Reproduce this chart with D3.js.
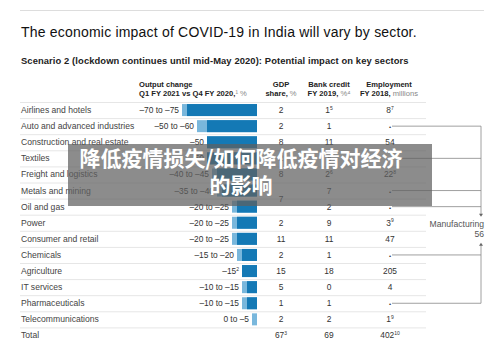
<!DOCTYPE html>
<html>
<head>
<meta charset="utf-8">
<script src="https://cdn.jsdelivr.net/npm/d3@7"></script>
<style>
  body { margin: 0; background: #fff; }
  svg { font-family: "Liberation Sans", Arial, sans-serif; }
</style>
</head>
<body>
<div id="container"></div>
<script>
/* DATA */
const sectors = ["Airlines and hotels", "Auto and advanced industries", "Construction and real estate",
  "Textiles", "Freight and logistics", "Metals and mining", "Oil and gas", "Power",
  "Consumer and retail", "Chemicals", "Agriculture", "IT services", "Pharmaceuticals",
  "Telecommunications", "Total"]
const outLow = [70, 50, 50, 50, 40, 35, 20, 20, 20, 15, 15, 10, 10, 0, null]
const outHigh = [75, 60, 50, 50, 45, 40, 25, 25, 25, 20, 15, 15, 15, 5, null]
const outLabels = ["–70 to –75", "–50 to –60", "–50", "–50", "–40 to –45", "–35 to –40", "–20 to –25",
  "–20 to –25", "–20 to –25", "–15 to –20", "–15|2", "–10 to –15", "–10 to –15", "0 to –5", ""]
// "|" marks a superscript note
const gdpShare = ["2", "2", "8", "2", "8", "", "", "2", "11", "2", "15", "5", "1", "2", "67|3"]
const bankCredit = ["1|5", "1", "11", "4", "2|6", "7", "2", "9", "11", "1", "18", "0", "1", "2", "69"]
const employment = ["8|7", "•", "54", "•", "22|8", "•", "•", "3|9", "47", "•", "205", "4", "•", "1|9", "402|10"]
const manufacturing = { label: "Manufacturing", value: "56" }
const mergedGdp = { rows: [5, 6], value: "7" }
const watermark = ["降低疫情损失/如何降低疫情对经济", "的影响"]

/* CONSTANTS */
const width = 500, height = 350
const rowTop = 102, rowH = 16.1
const barRight = 257

const svg = d3.select("#container").append("svg")
  .attr("width", width).attr("height", height)

// top rule
svg.append("line").attr("x1", 20).attr("x2", 484).attr("y1", 10.5).attr("y2", 10.5)
  .attr("stroke", "#ddd").attr("stroke-width", 1)

svg.append("text").attr("x", 21).attr("y", 37)
  .attr("font-size", 14).attr("font-weight", 500).attr("fill", "#111")
  .attr("letter-spacing", 0.2)
  .text("The economic impact of COVID-19 in India will vary by sector.")

svg.append("text").attr("x", 21).attr("y", 63.5)
  .attr("font-size", 9.4).attr("font-weight", "bold").attr("fill", "#222")
  .attr("letter-spacing", 0.1)
  .text("Scenario 2 (lockdown continues until mid-May 2020): Potential impact on key sectors")

/* SCALES */
const y = d3.scaleBand().domain(d3.range(sectors.length))
  .range([rowTop, rowTop + rowH * sectors.length])
const x = d3.scaleLinear().domain([0, 75]).range([0, 75])

// headers
function header(xp, anchor, lines) {
  const t = svg.append("text").attr("x", xp).attr("text-anchor", anchor)
    .attr("font-size", 7.6).attr("fill", "#222")
  lines.forEach((ln, i) => {
    const ts = t.append("tspan").attr("x", xp).attr("y", 86.5 + i * 9.5)
    ts.append("tspan").attr("font-weight", "bold").text(ln[0])
    if (ln[1]) ts.append("tspan").attr("fill", "#888").text(ln[1])
  })
}
header(139, "start", [["Output change"], ["Q1 FY 2021 vs Q4 FY 2020,", "¹ %"]])
header(281, "middle", [["GDP"], ["share,", " %"]])
header(329, "middle", [["Bank credit"], ["FY 2019,", " %⁴"]])
header(389, "middle", [["Employment"], ["FY 2018,", " millions"]])

// row separators
svg.append("g").selectAll("line")
  .data(d3.range(sectors.length))
  .join("line")
  .attr("x1", 20).attr("x2", 426)
  .attr("y1", i => y(i) + 0.5).attr("y2", i => y(i) + 0.5)
  .attr("stroke", "#e6e6e6")

const cy = i => y(i) + y.bandwidth() / 2

function supText(sel, str) {
  const [main, sup] = str.split("|")
  sel.text(null)
  sel.append("tspan").text(main)
  if (sup) sel.append("tspan").attr("font-size", 5).attr("dy", -3.5).text(sup)
}

// sector names
svg.append("g").selectAll("text")
  .data(sectors)
  .join("text")
  .attr("x", 21).attr("y", (d, i) => cy(i) + 3)
  .attr("font-size", 8.6).attr("fill", "#444")
  .text(d => d)

// bars
const bars = svg.append("g")
bars.selectAll("rect.hi")
  .data(outHigh.map((v, i) => ({ v, i })).filter(d => d.v != null))
  .join("rect").attr("class", "hi")
  .attr("x", d => barRight - x(d.v)).attr("width", d => x(d.v))
  .attr("y", d => cy(d.i) - 6).attr("height", 12)
  .attr("fill", "#79b7dc")
bars.selectAll("rect.lo")
  .data(outLow.map((v, i) => ({ v, i })).filter(d => d.v != null && d.v > 0))
  .join("rect").attr("class", "lo")
  .attr("x", d => barRight - x(d.v)).attr("width", d => x(d.v))
  .attr("y", d => cy(d.i) - 6).attr("height", 12)
  .attr("fill", "#1479b5")

// output labels
svg.append("g").selectAll("text")
  .data(outLabels)
  .join("text")
  .attr("x", (d, i) => barRight - x(outHigh[i] || 0) - 3)
  .attr("y", (d, i) => cy(i) + 3)
  .attr("text-anchor", "end").attr("font-size", 8.4).attr("fill", "#333")
  .each(function (d) { supText(d3.select(this), d) })

// numeric columns
function column(values, xp) {
  svg.append("g").selectAll("text")
    .data(values)
    .join("text")
    .attr("x", xp).attr("y", (d, i) => cy(i) + 3)
    .attr("text-anchor", "middle").attr("font-size", 8.4).attr("fill", "#333")
    .each(function (d) {
      if (d === "•") d3.select(this).attr("font-size", 6).text(d)
      else supText(d3.select(this), d)
    })
}
column(gdpShare, 281)
column(bankCredit, 329)
column(employment, 390)

svg.append("text").attr("x", 281)
  .attr("y", (cy(mergedGdp.rows[0]) + cy(mergedGdp.rows[1])) / 2 + 3)
  .attr("text-anchor", "middle").attr("font-size", 8.4).attr("fill", "#333")
  .text(mergedGdp.value)

// manufacturing bracket
const mRows = employment.map((d, i) => d === "•" ? i : -1).filter(i => i >= 0)
const bx = 481
const br = svg.append("g").attr("stroke", "#888").attr("stroke-width", 0.8).attr("fill", "none")
br.selectAll("line.h").data(mRows).join("line").attr("class", "h")
  .attr("x1", 392).attr("x2", bx).attr("y1", i => cy(i)).attr("y2", i => cy(i))
const labY = cy(7) + 4
br.append("line").attr("x1", bx).attr("x2", bx).attr("y1", cy(mRows[0])).attr("y2", labY - 12)
br.append("line").attr("x1", bx).attr("x2", bx).attr("y1", labY + 18).attr("y2", cy(mRows[mRows.length - 1]))
svg.append("path").attr("d", `M${bx - 2},${labY - 13} L${bx + 2},${labY - 13} L${bx},${labY - 10} Z`).attr("fill", "#666")
svg.append("path").attr("d", `M${bx - 2},${labY + 19} L${bx + 2},${labY + 19} L${bx},${labY + 16} Z`).attr("fill", "#666")
svg.append("text").attr("x", 484).attr("y", labY).attr("text-anchor", "end")
  .attr("font-size", 8.6).attr("fill", "#555").text(manufacturing.label)
svg.append("text").attr("x", 484).attr("y", labY + 10).attr("text-anchor", "end")
  .attr("font-size", 8.6).attr("fill", "#555").text(manufacturing.value)

// watermark banner
svg.append("rect").attr("x", 68).attr("y", 144).attr("width", 364).attr("height", 62)
  .attr("fill", "rgba(95,95,95,0.72)")
svg.append("g").selectAll("text")
  .data(watermark)
  .join("text")
  .attr("x", 241).attr("y", (d, i) => 166 + i * 27)
  .attr("text-anchor", "middle")
  .attr("font-family", "'Noto Sans CJK SC', sans-serif")
  .attr("font-size", 21).attr("font-weight", "bold").attr("fill", "#fff")
  .text(d => d)
</script>
</body>
</html>
